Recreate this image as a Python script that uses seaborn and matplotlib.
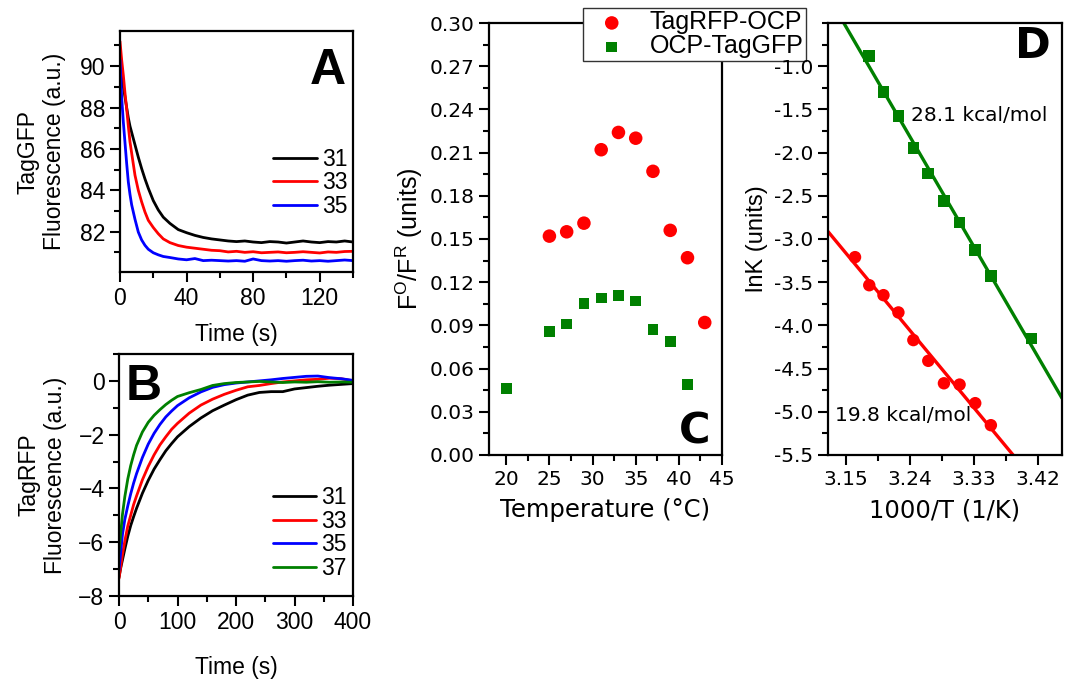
import matplotlib
matplotlib.use('Agg')
import matplotlib.pyplot as plt
from matplotlib.ticker import MultipleLocator
import numpy as np
import pandas as pd
import seaborn as sns

# Panel A : TagGFP fluorescence traces
time_a = [0, 1, 2, 3, 4, 5, 6, 7, 9, 11, 13, 15, 17, 20, 23, 26, 30, 35, 40, 45, 50,
          55, 60, 65, 70, 75, 80, 85, 90, 95, 100, 105, 110, 115, 120, 125, 130, 135, 140]
gfp_31 = [90.8, 89.8, 89.0, 88.5, 88.0, 87.5, 87.1, 86.8, 86.2, 85.6, 85.05, 84.55, 84.1,
          83.5, 83.05, 82.7, 82.4, 82.1, 81.95, 81.82, 81.72, 81.65, 81.6, 81.55, 81.52,
          81.55, 81.5, 81.47, 81.52, 81.5, 81.45, 81.5, 81.55, 81.5, 81.47, 81.52, 81.5,
          81.55, 81.5]
gfp_33 = [91.2, 90.3, 89.56, 88.7, 87.95, 87.1, 86.34, 85.8, 84.73, 84.0, 83.44, 82.95,
          82.55, 82.2, 81.9, 81.65, 81.47, 81.33, 81.25, 81.2, 81.15, 81.1, 81.08, 81.02,
          81.05, 81.0, 81.03, 80.98, 81.0, 81.02, 80.98, 81.0, 81.03, 81.0, 80.97, 81.02,
          81.0, 81.04, 81.05]
gfp_35 = [90.3, 88.5, 87.3, 86.3, 85.3, 84.4, 83.8, 83.3, 82.6, 81.98, 81.6, 81.34, 81.15,
          80.98, 80.88, 80.8, 80.75, 80.68, 80.64, 80.7, 80.6, 80.62, 80.6, 80.58, 80.6,
          80.57, 80.68, 80.6, 80.58, 80.6, 80.57, 80.6, 80.62, 80.58, 80.6, 80.57, 80.6,
          80.63, 80.6]

# Panel B : TagRFP fluorescence traces
time_b = [0, 3, 6, 10, 15, 20, 25, 30, 40, 50, 60, 70, 80, 90, 100, 120, 140, 160, 180,
          200, 220, 240, 260, 280, 300, 320, 340, 360, 380, 400]
rfp_31 = [-7.3, -6.95, -6.65, -6.25, -5.78, -5.38, -5.05, -4.74, -4.18, -3.7, -3.28, -2.93,
          -2.6, -2.33, -2.08, -1.7, -1.38, -1.11, -0.9, -0.7, -0.53, -0.43, -0.4, -0.4,
          -0.3, -0.25, -0.2, -0.16, -0.13, -0.1]
rfp_33 = [-7.35, -6.9, -6.45, -5.95, -5.4, -5.0, -4.6, -4.28, -3.68, -3.18, -2.75, -2.38,
          -2.08, -1.8, -1.58, -1.2, -0.9, -0.68, -0.5, -0.35, -0.22, -0.17, -0.1, -0.04,
          0.0, 0.04, 0.06, 0.1, 0.08, 0.0]
rfp_35 = [-7.03, -6.35, -5.7, -5.15, -4.65, -4.2, -3.8, -3.45, -2.85, -2.35, -1.95, -1.62,
          -1.34, -1.12, -0.92, -0.63, -0.41, -0.24, -0.14, -0.08, -0.04, 0.0, 0.04, 0.09,
          0.13, 0.17, 0.18, 0.12, 0.08, 0.02]
rfp_37 = [-6.35, -5.65, -4.95, -4.3, -3.65, -3.15, -2.75, -2.4, -1.9, -1.54, -1.28, -1.07,
          -0.88, -0.72, -0.58, -0.44, -0.32, -0.17, -0.1, -0.06, -0.04, -0.02, -0.04, -0.06,
          -0.04, -0.05, -0.03, -0.05, -0.04, -0.05]

# Panel C : F_O/F_R vs temperature
temp_rfp = [25, 27, 29, 31, 33, 35, 37, 39, 41, 43]
ratio_rfp = [0.152, 0.155, 0.161, 0.212, 0.224, 0.220, 0.197, 0.156, 0.137, 0.092]
temp_gfp = [20, 25, 27, 29, 31, 33, 35, 37, 39, 41]
ratio_gfp = [0.046, 0.086, 0.091, 0.105, 0.109, 0.111, 0.107, 0.087, 0.079, 0.049]

# Panel D : Arrhenius plot
invT_rfp = [3.163, 3.183, 3.203, 3.224, 3.245, 3.266, 3.288, 3.310, 3.332, 3.354]
lnk_rfp = [-3.21, -3.535, -3.65, -3.85, -4.17, -4.41, -4.67, -4.685, -4.90, -5.155]
invT_gfp = [3.183, 3.203, 3.224, 3.245, 3.266, 3.288, 3.310, 3.332, 3.354, 3.411]
lnk_gfp = [-0.88, -1.30, -1.575, -1.945, -2.24, -2.56, -2.81, -3.13, -3.43, -4.15]

RED = '#ff0000'
GREEN = '#008000'
BLUE = '#0000ff'
ARIAL = 'Liberation Sans'
WIDE = 'DejaVu Sans'

sns.set_theme(style='ticks')
plt.rcParams['font.family'] = [ARIAL, 'DejaVu Sans']
plt.rcParams['mathtext.fontset'] = 'custom'
plt.rcParams['mathtext.rm'] = ARIAL
for key in ['text.color', 'axes.labelcolor', 'xtick.color', 'ytick.color', 'axes.edgecolor']:
    plt.rcParams[key] = 'black'

fig = plt.figure(figsize=(10.65, 6.84), dpi=100)
W, H = 1065, 684


def add_ax(left, top, right, bottom):
    return fig.add_axes([left / W, 1 - bottom / H, (right - left) / W, (bottom - top) / H])


def style_ax(ax, fs, family):
    for sp in ax.spines.values():
        sp.set_visible(True)
        sp.set_linewidth(1.6)
        sp.set_color('black')
    ax.tick_params(which='both', direction='out', top=False, right=False,
                   width=1.5, colors='black', labelsize=fs)
    ax.tick_params(which='major', length=7)
    ax.tick_params(which='minor', length=4)
    for lab in ax.get_xticklabels() + ax.get_yticklabels():
        lab.set_family(family)


# ---- A
axA = add_ax(120, 31, 353, 272)
for y, c, lab in [(gfp_31, 'black', '31'), (gfp_33, RED, '33'), (gfp_35, BLUE, '35')]:
    sns.lineplot(x=time_a, y=y, color=c, lw=2, label=lab, ax=axA)
axA.set_xlim(0, 140)
axA.set_ylim(80.05, 91.7)
axA.xaxis.set_major_locator(MultipleLocator(40))
axA.xaxis.set_minor_locator(MultipleLocator(20))
axA.yaxis.set_minor_locator(MultipleLocator(1))
axA.set_yticks([82, 84, 86, 88, 90])
style_ax(axA, 16.5, ARIAL)
axA.set_xlabel('Time (s)', fontsize=16.5, labelpad=10)
axA.set_ylabel('TagGFP\nFluorescence (a.u.)', fontsize=16.5, labelpad=10)
axA.legend(loc='upper left', bbox_to_anchor=(0.657, 0.515), frameon=False, fontsize=16.5,
           handlelength=1.9, handletextpad=0.22, labelspacing=0.02, borderpad=0,
           borderaxespad=0)
axA.text(0.97, 0.93, 'A', transform=axA.transAxes, ha='right', va='top',
         fontsize=36, fontweight='bold')

# ---- B
axB = add_ax(119, 354, 353, 596)
for y, c, lab in [(rfp_31, 'black', '31'), (rfp_33, RED, '33'),
                  (rfp_35, BLUE, '35'), (rfp_37, GREEN, '37')]:
    sns.lineplot(x=time_b, y=y, color=c, lw=2, label=lab, ax=axB)
axB.set_xlim(0, 400)
axB.set_ylim(-8, 1)
axB.xaxis.set_major_locator(MultipleLocator(100))
axB.xaxis.set_minor_locator(MultipleLocator(50))
axB.yaxis.set_minor_locator(MultipleLocator(1))
axB.set_yticks([-8, -6, -4, -2, 0])
style_ax(axB, 16.5, ARIAL)
axB.set_xlabel('Time (s)', fontsize=16.5, labelpad=16)
axB.set_ylabel('TagRFP\nFluorescence (a.u.)', fontsize=16.5, labelpad=8)
axB.legend(loc='upper left', bbox_to_anchor=(0.656, 0.453), frameon=False, fontsize=16.5,
           handlelength=1.9, handletextpad=0.22, labelspacing=0.02, borderpad=0,
           borderaxespad=0)
axB.text(0.03, 0.96, 'B', transform=axB.transAxes, ha='left', va='top',
         fontsize=36, fontweight='bold')

# ---- C
axC = add_ax(489, 23, 722, 455)
sns.scatterplot(x=temp_rfp, y=ratio_rfp, marker='o', s=95, color=RED, edgecolor='none',
                label='TagRFP-OCP', ax=axC)
sns.scatterplot(x=temp_gfp, y=ratio_gfp, marker='s', s=60, color=GREEN, edgecolor='none',
                label='OCP-TagGFP', ax=axC)
axC.set_xlim(18, 45)
axC.set_ylim(0, 0.30)
axC.xaxis.set_major_locator(MultipleLocator(5))
axC.xaxis.set_minor_locator(MultipleLocator(2.5))
axC.yaxis.set_major_locator(MultipleLocator(0.03))
axC.yaxis.set_minor_locator(MultipleLocator(0.015))
axC.yaxis.set_major_formatter(lambda v, p: f'{v:.2f}')
style_ax(axC, 14.5, WIDE)
axC.set_xlabel('Temperature (°C)', fontsize=17.5, family=WIDE, labelpad=7)
axC.set_ylabel(r'F$^{\mathregular{O}}$/F$^{\mathregular{R}}$ (units)', fontsize=18,
               labelpad=3)
axC.text(0.95, 0.005, 'C', transform=axC.transAxes, ha='right', va='bottom',
         fontsize=31, fontweight='bold', family=WIDE)
leg = axC.legend(loc='upper left', bbox_to_anchor=(583 / W, 1 - 8 / H),
                 bbox_transform=fig.transFigure, fontsize=18, frameon=True,
                 fancybox=False, framealpha=1, edgecolor='#333333', borderpad=0.1,
                 handlelength=2.1, handletextpad=0.46, labelspacing=0.0,
                 borderaxespad=0)
leg.get_frame().set_linewidth(1.0)

# ---- D
axD = add_ax(828, 23, 1062, 455)
axD.set_xlim(3.125, 3.454)
axD.set_ylim(-5.5, -0.5)
sns.regplot(x=invT_rfp, y=lnk_rfp, ci=None, truncate=False, marker='o', color=RED,
            scatter_kws={'s': 80, 'edgecolor': 'none', 'alpha': 1},
            line_kws={'lw': 2.4}, ax=axD)
sns.regplot(x=invT_gfp, y=lnk_gfp, ci=None, truncate=False, marker='s', color=GREEN,
            scatter_kws={'s': 70, 'edgecolor': 'none', 'alpha': 1},
            line_kws={'lw': 2.4}, ax=axD)
axD.set_xlim(3.125, 3.454)
axD.set_ylim(-5.5, -0.5)
axD.xaxis.set_major_locator(MultipleLocator(0.09))
axD.xaxis.set_minor_locator(MultipleLocator(0.045))
axD.yaxis.set_minor_locator(MultipleLocator(0.25))
axD.xaxis.set_major_formatter(lambda v, p: f'{v:.2f}')
axD.yaxis.set_major_formatter(lambda v, p: f'{v:.1f}')
axD.set_yticks(np.arange(-5.5, -0.9, 0.5))
style_ax(axD, 14.5, WIDE)
axD.set_xlabel('1000/T (1/K)', fontsize=17.5, family=WIDE, labelpad=7)
axD.set_ylabel('lnK (units)', fontsize=17, labelpad=4)
axD.text(3.242, -1.567, '28.1 kcal/mol', fontsize=14.5, family=WIDE,
         ha='left', va='center')
axD.text(3.135, -5.04, '19.8 kcal/mol', fontsize=14.5, family=WIDE,
         ha='left', va='center')
axD.text(0.95, 0.995, 'D', transform=axD.transAxes, ha='right', va='top',
         fontsize=31, fontweight='bold', family=WIDE)

fig.savefig('out.png', dpi=100)
